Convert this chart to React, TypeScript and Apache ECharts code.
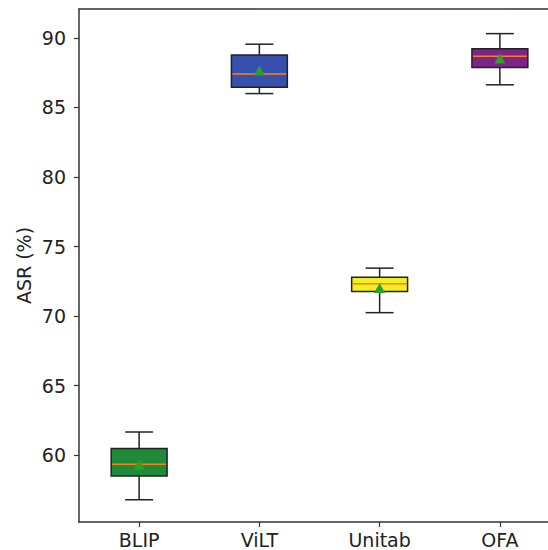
import React, { useEffect, useRef } from "react";
import * as echarts from "echarts";

const categories = ["BLIP", "ViLT", "Unitab", "OFA"];
const whiskerLow = [56.8, 86.0, 70.25, 86.63];
const q1 = [58.5, 86.45, 71.77, 87.87];
const median = [59.35, 87.4, 72.33, 88.68];
const q3 = [60.48, 88.78, 72.8, 89.23];
const whiskerHigh = [61.67, 89.55, 73.45, 90.31];
const mean = [59.28, 87.63, 71.99, 88.49];
const boxColors = ["#1e8a3a", "#3750ae", "#f4ef22", "#7b2589"];
const yTicks = [60, 65, 70, 75, 80, 85, 90];

export default function App() {
  const ref = useRef<HTMLDivElement>(null);
  useEffect(() => {
    if (!ref.current) return;
    document.documentElement.style.overflow = "hidden";
    const chart = echarts.init(ref.current, undefined, { renderer: "svg" });
    const data = categories.map((c, i) => [
      i,
      whiskerLow[i],
      q1[i],
      median[i],
      q3[i],
      whiskerHigh[i],
      mean[i],
    ]);
    const font = "DejaVu Sans";
    chart.setOption({
      animation: false,
      backgroundColor: "#ffffff",
      grid: {
        left: 79,
        top: 9,
        width: 481,
        height: 513,
        outerBoundsMode: "none",
        containLabel: false,
        show: false,
      },
      graphic: [
        {
          type: "rect",
          z: 100,
          silent: true,
          shape: { x: 541, y: 11, width: 20, height: 509 },
          style: { fill: "#ffffff" },
        },
      ],
      xAxis: [
        {
          type: "category",
          data: categories,
          boundaryGap: true,
          position: "bottom",
          axisLine: { show: true, lineStyle: { color: "#333", width: 1.5 } },
          axisTick: { show: true, alignWithLabel: true, length: 5, lineStyle: { color: "#333", width: 1.2 } },
          axisLabel: { fontFamily: font, fontSize: 19, color: "#222", margin: 8 },
          splitLine: { show: false },
        },
        {
          type: "category",
          data: categories,
          position: "top",
          axisLine: { show: true, lineStyle: { color: "#333", width: 1.5 } },
          axisTick: { show: false },
          axisLabel: { show: false },
          splitLine: { show: false },
        },
      ],
      yAxis: {
        type: "value",
        min: 55.2,
        max: 92.08,
        name: "ASR (%)",
        nameLocation: "middle",
        nameGap: 46,
        nameMoveOverlap: false,
        nameTextStyle: { fontFamily: font, fontSize: 19, color: "#222" },
        axisLine: { show: true, lineStyle: { color: "#333", width: 1.5 } },
        axisTick: { show: true, length: 5, customValues: yTicks, lineStyle: { color: "#333", width: 1.2 } },
        axisLabel: { fontFamily: font, fontSize: 19, color: "#222", margin: 13, customValues: yTicks },
        splitLine: { show: false },
      },
      series: [
        {
          type: "custom",
          data,
          xAxisIndex: 0,
          encode: { x: 0, y: [1, 2, 3, 4, 5, 6] },
          renderItem: (params: any, api: any) => {
            const i = api.value(0);
            const cx = api.coord([i, api.value(3)])[0];
            const yLow = api.coord([i, api.value(1)])[1];
            const yQ1 = api.coord([i, api.value(2)])[1];
            const yMed = api.coord([i, api.value(3)])[1];
            const yQ3 = api.coord([i, api.value(4)])[1];
            const yHigh = api.coord([i, api.value(5)])[1];
            const yMean = api.coord([i, api.value(6)])[1];
            const band = api.size([1, 0])[0];
            const bw = band * 0.465;
            const cw = bw / 2;
            const lineStyle = { stroke: "#222", lineWidth: 1.5 };
            return {
              type: "group",
              children: [
                { type: "line", shape: { x1: cx, y1: yLow, x2: cx, y2: yQ1 }, style: lineStyle },
                { type: "line", shape: { x1: cx, y1: yQ3, x2: cx, y2: yHigh }, style: lineStyle },
                { type: "line", shape: { x1: cx - cw / 2, y1: yLow, x2: cx + cw / 2, y2: yLow }, style: lineStyle },
                { type: "line", shape: { x1: cx - cw / 2, y1: yHigh, x2: cx + cw / 2, y2: yHigh }, style: lineStyle },
                {
                  type: "rect",
                  shape: { x: cx - bw / 2, y: yQ3, width: bw, height: yQ1 - yQ3 },
                  style: { fill: boxColors[i], stroke: "#222", lineWidth: 1.5 },
                },
                {
                  type: "line",
                  shape: { x1: cx - bw / 2 + 1, y1: yMed, x2: cx + bw / 2 - 1, y2: yMed },
                  style: { stroke: "#ff7f0e", lineWidth: 1.5 },
                },
                {
                  type: "polygon",
                  shape: {
                    points: [
                      [cx, yMean - 5.5],
                      [cx - 5.5, yMean + 4.5],
                      [cx + 5.5, yMean + 4.5],
                    ],
                  },
                  style: { fill: "#2ca02c" },
                },
              ],
            };
          },
        },
      ],
    });
    return () => chart.dispose();
  }, []);
  return (
    <div
      ref={ref}
      style={{ position: "fixed", left: 0, top: 0, width: 600, height: 550 }}
    />
  );
}
